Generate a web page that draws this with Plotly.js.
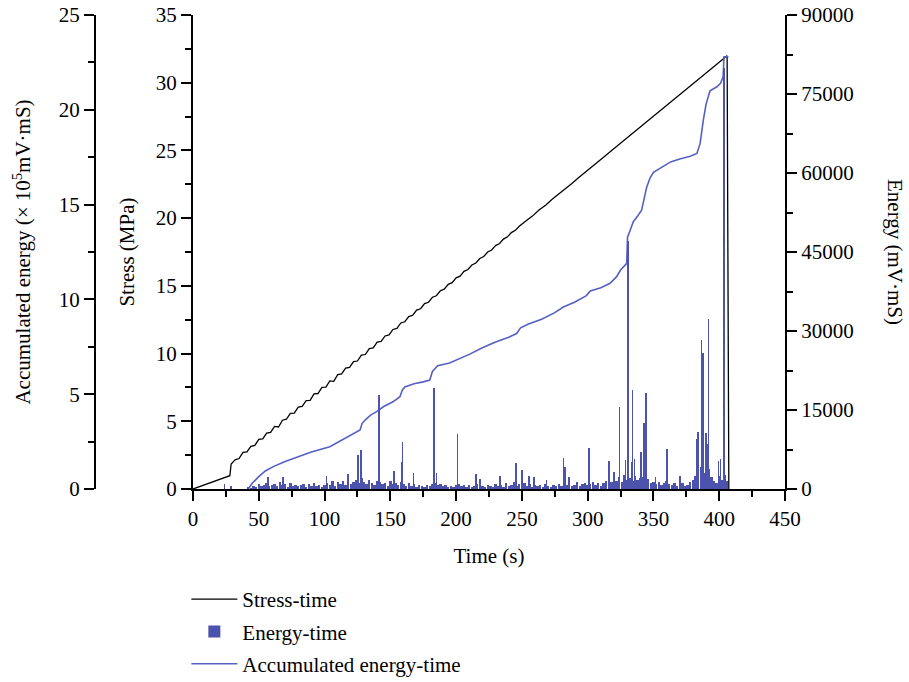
<!DOCTYPE html>
<html>
<head>
<meta charset="utf-8">
<script src="https://cdn.plot.ly/plotly-3.0.1.min.js"></script>
<style>html,body{margin:0;padding:0;background:#fff;}#chart{width:909px;height:682px;}</style>
</head>
<body>
<div id="chart"></div>
<script>
// ---- Stress-time (MPa) ----
const stressTime = [0, 28, 29, 32, 35, 38, 41, 44, 47, 50, 53, 56, 59, 62, 65, 68, 71, 74, 77, 80, 83, 86, 89, 92, 95, 98, 101, 104, 107, 110, 113, 116, 119, 122, 125, 128, 131, 134, 137, 140, 143, 146, 149, 152, 155, 158, 161, 164, 167, 170, 173, 176, 179, 182, 185, 188, 191, 194, 197, 200, 203, 206, 209, 212, 215, 218, 221, 224, 227, 230, 233, 236, 239, 242, 245, 248, 253, 258, 263, 268, 273, 278, 283, 288, 293, 298, 303, 308, 313, 318, 323, 328, 333, 338, 343, 348, 353, 358, 363, 368, 373, 378, 383, 388, 393, 398, 403, 406, 407.3];
const stressValue = [0, 0.98, 1.85, 2.15, 2.25, 2.70, 2.74, 3.15, 3.22, 3.66, 3.70, 4.12, 4.18, 4.62, 4.58, 5.08, 5.15, 5.58, 5.60, 6.05, 6.10, 6.52, 6.55, 7.02, 7.05, 7.50, 7.52, 7.98, 7.95, 8.45, 8.50, 8.92, 8.98, 9.40, 9.45, 9.88, 9.93, 10.36, 10.42, 10.84, 10.90, 11.30, 11.38, 11.78, 11.86, 12.26, 12.35, 12.73, 12.83, 13.21, 13.31, 13.69, 13.79, 14.16, 14.27, 14.64, 14.76, 15.11, 15.24, 15.59, 15.72, 16.07, 16.21, 16.54, 16.69, 17.02, 17.17, 17.50, 17.65, 17.97, 18.13, 18.45, 18.62, 18.93, 19.10, 19.40, 19.79, 20.15, 20.60, 20.95, 21.39, 21.76, 22.18, 22.56, 22.98, 23.36, 23.78, 24.16, 24.57, 24.97, 25.37, 25.77, 26.17, 26.57, 26.97, 27.37, 27.77, 28.17, 28.57, 28.97, 29.37, 29.77, 30.17, 30.57, 30.97, 31.37, 31.77, 32.0, 0];

// ---- Energy-time (mV·mS): background activity ----
const noiseTime = [42, 44, 46, 48, 50, 52, 54, 56, 58, 60,
  62, 64, 66, 68, 70, 72, 74, 76, 78, 80,
  82, 84, 86, 88, 90, 92, 94, 96, 98, 100,
  102, 104, 106, 108, 110, 112, 114, 116, 118, 120,
  122, 124, 126, 128, 130, 132, 134, 136, 138, 140,
  142, 144, 146, 148, 150, 152, 154, 156, 158, 160,
  162, 164, 166, 168, 170, 172, 174, 176, 178, 180,
  182, 184, 186, 188, 190, 192, 194, 196, 198, 200,
  202, 204, 206, 208, 210, 212, 214, 216, 218, 220,
  222, 224, 226, 228, 230, 232, 234, 236, 238, 240,
  242, 244, 246, 248, 250, 252, 254, 256, 258, 260,
  262, 264, 266, 268, 270, 272, 274, 276, 278, 280,
  282, 284, 286, 288, 290, 292, 294, 296, 298, 300,
  302, 304, 306, 308, 310, 312, 314, 316, 318, 320,
  322, 324, 326, 328, 330, 332, 334, 336, 338, 340,
  342, 344, 346, 348, 350, 352, 354, 356, 358, 360,
  362, 364, 366, 368, 370, 372, 374, 376, 378, 380,
  382, 384, 386, 388, 390, 392, 394, 396, 398, 400,
  402, 404, 406];
const noiseValue = [300, 150, 600, 400, 900, 500, 700, 1200, 600, 800,
  1000, 500, 1300, 700, 900, 400, 1100, 600, 800, 500,
  700, 1000, 400, 900, 600, 1100, 500, 800, 300, 700,
  1200, 800, 1500, 600, 1300, 900, 1600, 700, 1200, 1000,
  1400, 1800, 1100, 2000, 1300, 900, 1700, 1200, 800, 1500,
  1300, 900, 1100, 600, 1500, 1000, 1200, 700, 1400, 900,
  600, 1100, 500, 900, 400, 800, 600, 300, 700, 500,
  900, 1200, 700, 1000, 500, 800, 400, 600, 300, 700,
  900, 500, 700, 400, 800, 300, 600, 1000, 700, 500,
  400, 800, 600, 300, 900, 500, 700, 400, 1100, 600,
  800, 1300, 500, 1000, 700, 1200, 600, 900, 400, 700,
  500, 800, 400, 1000, 600, 300, 700, 500, 900, 600,
  1200, 800, 1000, 500, 700, 1300, 600, 900, 1100, 800,
  1000, 1400, 800, 1200, 600, 1100, 1500, 900, 1300, 1000,
  1600, 2200, 1400, 2600, 1800, 2000, 1500, 2400, 1700, 2100,
  2300, 1600, 1900, 1200, 1400, 900, 1300, 800, 1100, 1500,
  1000, 700, 1200, 600, 900, 1100, 500, 800, 1300, 1700,
  2500, 3500, 4200, 3000, 2600, 3800, 2200, 1600, 1200, 2400,
  1800, 2600, 1500];

// ---- Energy-time (mV·mS): distinct events ----
const spikeTime = [24, 29, 57, 68.6, 101.6, 117.6, 125.2, 127.7, 141.4, 152.8, 158.6, 159.4, 167.5, 183.2, 185, 201.2, 214.9, 218, 233.4, 245.4, 250.3, 255.4, 259.2, 268.8, 281.5, 282.8, 286, 301, 316, 320, 324.2, 328.7, 330.5, 333.4, 334.2, 335.7, 340.4, 342.8, 344.3, 351.7, 360.2, 370.2, 383, 384, 386.6, 387.6, 390, 391, 391.7, 399.3, 401.1, 403.6];
const spikeValue = [890, 600, 2220, 2340, 2470, 2850, 6460, 7400, 17850, 3480, 5190, 8990, 2980, 19100, 2980, 10450, 2850, 1900, 2470, 4880, 3610, 2530, 2340, 1710, 5830, 4240, 2340, 7720, 5320, 3170, 15500, 5510, 47000, 5190, 18800, 5640, 7090, 12480, 18290, 2220, 7530, 2530, 9440, 10770, 28200, 25770, 10700, 8490, 32300, 5380, 5700, 80000];

// ---- Accumulated energy-time (×10^5 mV·mS) ----
const accTime = [42, 45, 50, 55, 61, 70, 80, 90, 104, 115, 122, 127, 128.5, 131, 135, 139.6, 145, 152, 157.3, 159, 161, 168, 175, 180, 182, 186, 195, 200, 210, 220, 230, 240, 246, 249, 255, 265, 275, 281.5, 290, 299, 302, 310, 317, 322, 325, 329.7, 330.3, 331, 334.7, 338, 341, 344.8, 347.4, 350, 355, 360, 363, 370, 378, 383, 385.4, 388, 390, 393, 398, 401, 403, 403.6, 407];
const accValue = [0, 0.3, 0.65, 0.95, 1.18, 1.45, 1.7, 1.95, 2.23, 2.65, 2.9, 3.11, 3.45, 3.65, 3.9, 4.08, 4.35, 4.6, 4.87, 5.2, 5.38, 5.55, 5.65, 5.75, 6.2, 6.5, 6.65, 6.8, 7.1, 7.45, 7.75, 8.0, 8.2, 8.5, 8.7, 8.95, 9.3, 9.6, 9.85, 10.2, 10.45, 10.62, 10.85, 11.2, 11.55, 11.9, 13.3, 13.4, 14.1, 14.4, 14.7, 15.9, 16.4, 16.7, 16.9, 17.1, 17.25, 17.4, 17.55, 17.7, 18.2, 19.5, 20.3, 21.0, 21.2, 21.4, 21.75, 22.8, 22.8];

const xTicks = [0, 50, 100, 150, 200, 250, 300, 350, 400, 450];

const FONT = 'Liberation Serif, Times New Roman, serif';
const BLUE_BAR = '#4b53ad';
const BLUE_LINE = '#5560c2';

const energyTime = noiseTime.concat(spikeTime);
const energyValue = noiseValue.concat(spikeValue);
const energyWidth = noiseTime.map(() => 1.8).concat(spikeTime.map(() => 1.2));

const traces = [
  {
    type: 'scatter', mode: 'lines', name: 'Stress-time', legendgroup: 'a',
    x: stressTime, y: stressValue, yaxis: 'y',
    line: {color: '#000000', width: 1.3}
  },
  {
    type: 'bar', name: 'Energy-time', legendgroup: 'b',
    x: energyTime, y: energyValue, yaxis: 'y3',
    width: energyWidth,
    marker: {color: BLUE_BAR, line: {width: 0}}
  },
  {
    type: 'scatter', mode: 'lines', name: 'Accumulated energy-time', legendgroup: 'c',
    x: accTime, y: accValue, yaxis: 'y2',
    line: {color: BLUE_LINE, width: 1.6}
  }
];

const axisCommon = {
  showline: true, linewidth: 2, linecolor: '#000',
  ticks: 'outside', ticklen: 10, tickwidth: 2, tickcolor: '#000',
  showgrid: false, zeroline: false, automargin: false,
  tickfont: {family: FONT, size: 21, color: '#000'}
};
const titleFont = {family: FONT, size: 21, color: '#000'};

const layout = {
  width: 909, height: 682,
  margin: {l: 0, r: 0, t: 15, b: 193, autoexpand: false},
  paper_bgcolor: '#fff', plot_bgcolor: '#fff',
  font: {family: FONT, size: 21, color: '#000'},
  barmode: 'overlay',
  bargap: 0,
  showlegend: true,
  legend: {
    x: 0.205, y: -0.19, xanchor: 'left', yanchor: 'top',
    font: {family: FONT, size: 21, color: '#000'},
    itemwidth: 46,
    bgcolor: 'rgba(0,0,0,0)', tracegroupgap: 2
  },
  xaxis: Object.assign({}, axisCommon, {
    domain: [193/909, 785/909],
    range: [0, 450], tickvals: xTicks, anchor: 'y',
    minor: {dtick: 25, ticks: 'outside', ticklen: 6, tickwidth: 2, tickcolor: '#000'},
    title: {text: 'Time (s)', font: titleFont, standoff: 18}
  }),
  yaxis: Object.assign({}, axisCommon, {
    range: [0, 35], dtick: 5, anchor: 'x', side: 'left',
    minor: {dtick: 2.5, ticks: 'outside', ticklen: 6, tickwidth: 2, tickcolor: '#000'},
    title: {text: 'Stress (MPa)', font: titleFont, standoff: 15}
  }),
  yaxis2: Object.assign({}, axisCommon, {
    range: [0, 25], dtick: 5, overlaying: 'y', anchor: 'free', position: 95/909, side: 'left',
    minor: {dtick: 2.5, ticks: 'outside', ticklen: 6, tickwidth: 2, tickcolor: '#000'},
    title: {text: 'Accumulated energy (× 10<sup>5</sup>mV·mS)', font: titleFont, standoff: 21}
  }),
  yaxis3: Object.assign({}, axisCommon, {
    range: [0, 90000], dtick: 15000, overlaying: 'y', anchor: 'x', side: 'right',
    exponentformat: 'none', separatethousands: false, tickformat: 'd',
    minor: {dtick: 7500, ticks: 'outside', ticklen: 6, tickwidth: 2, tickcolor: '#000'}
  }),
  annotations: [{
    text: 'Energy (mV·mS)', textangle: 90, showarrow: false,
    xref: 'paper', yref: 'paper', x: 895/909, y: 0.5,
    xanchor: 'center', yanchor: 'middle',
    font: titleFont
  }]
};

Plotly.newPlot('chart', traces, layout, {displayModeBar: false, staticPlot: true});
</script>
</body>
</html>
